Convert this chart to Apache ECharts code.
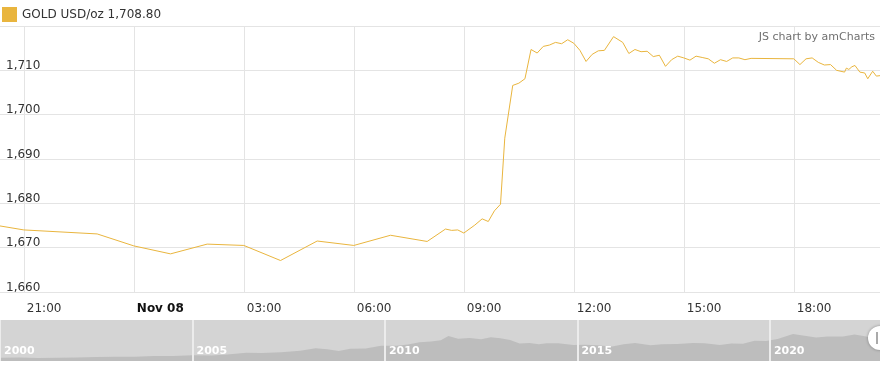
<!DOCTYPE html>
<html><head><meta charset="utf-8">
<script src="https://cdn.jsdelivr.net/npm/echarts@6/dist/echarts.min.js"></script>
<style>html,body{margin:0;padding:0;background:#fff}#c{width:880px;height:368px}</style>
</head><body><div id="c"></div>
<script>
const seriesName = 'GOLD USD/oz';
const watermark = 'JS chart by amCharts';

// intraday quotes
const times = [
  '2022-11-07 20:21','2022-11-07 21:00','2022-11-07 23:00',
  '2022-11-08 00:00','2022-11-08 01:00','2022-11-08 02:00','2022-11-08 03:00',
  '2022-11-08 04:00','2022-11-08 05:00','2022-11-08 06:00','2022-11-08 07:00',
  '2022-11-08 08:00','2022-11-08 08:30','2022-11-08 08:40','2022-11-08 08:50',
  '2022-11-08 09:00','2022-11-08 09:18','2022-11-08 09:30','2022-11-08 09:40',
  '2022-11-08 09:50','2022-11-08 10:00','2022-11-08 10:07','2022-11-08 10:20',
  '2022-11-08 10:30','2022-11-08 10:40','2022-11-08 10:50','2022-11-08 11:00',
  '2022-11-08 11:10','2022-11-08 11:20','2022-11-08 11:30','2022-11-08 11:40',
  '2022-11-08 11:50','2022-11-08 12:00','2022-11-08 12:10','2022-11-08 12:20',
  '2022-11-08 12:30','2022-11-08 12:40','2022-11-08 12:50','2022-11-08 13:05',
  '2022-11-08 13:20','2022-11-08 13:30','2022-11-08 13:40','2022-11-08 13:50',
  '2022-11-08 14:00','2022-11-08 14:10','2022-11-08 14:20','2022-11-08 14:30',
  '2022-11-08 14:40','2022-11-08 14:50','2022-11-08 15:00','2022-11-08 15:10',
  '2022-11-08 15:20','2022-11-08 15:30','2022-11-08 15:40','2022-11-08 15:50',
  '2022-11-08 16:00','2022-11-08 16:10','2022-11-08 16:20','2022-11-08 16:30',
  '2022-11-08 16:40','2022-11-08 16:50','2022-11-08 18:00','2022-11-08 18:10',
  '2022-11-08 18:20','2022-11-08 18:30','2022-11-08 18:40','2022-11-08 18:50',
  '2022-11-08 19:00','2022-11-08 19:10','2022-11-08 19:23','2022-11-08 19:26',
  '2022-11-08 19:30','2022-11-08 19:35','2022-11-08 19:40','2022-11-08 19:48',
  '2022-11-08 19:56','2022-11-08 20:01','2022-11-08 20:09','2022-11-08 20:15',
  '2022-11-08 20:21'
];
const prices = [
  1674.9,1674.0,1673.1,
  1670.4,1668.6,1670.8,1670.5,
  1667.1,1671.5,1670.5,1672.8,
  1671.4,1674.2,1673.9,1674.0,
  1673.3,1675.1,1676.5,1675.9,
  1678.3,1679.8,1694.7,1706.6,
  1707.1,1708.1,1714.7,1713.9,
  1715.4,1715.7,1716.3,1716.0,
  1716.9,1716.1,1714.5,1712.0,
  1713.6,1714.4,1714.5,1717.6,
  1716.3,1713.8,1714.7,1714.2,
  1714.3,1713.1,1713.4,1710.9,
  1712.4,1713.2,1712.8,1712.3,
  1713.2,1712.9,1712.6,1711.6,
  1712.4,1712.0,1712.8,1712.8,
  1712.4,1712.7,1712.6,1711.3,
  1712.6,1712.8,1711.8,1711.2,
  1711.3,1710.0,1709.6,1710.5,
  1710.2,1710.8,1711.1,1709.6,
  1709.4,1708.1,1709.8,1708.7,
  1708.8
];
const yMin = 1660, yMax = 1720, yStep = 10;
const xTickTimes = ['2022-11-07 21:00','2022-11-08 00:00','2022-11-08 03:00','2022-11-08 06:00',
  '2022-11-08 09:00','2022-11-08 12:00','2022-11-08 15:00','2022-11-08 18:00'];
const dayLabel = 'Nov 08';

// long-term navigator (year, price)
const navYears = [2000.0,2000.5,2001.0,2001.5,2002.0,2002.5,2003.0,2003.5,2004.0,2004.5,
  2005.0,2005.5,2005.9,2006.4,2006.8,2007.3,2007.8,2008.2,2008.5,2008.8,
  2009.1,2009.5,2009.9,2010.3,2010.6,2010.9,2011.2,2011.45,2011.65,2011.9,
  2012.2,2012.5,2012.75,2013.0,2013.25,2013.5,2013.75,2014.0,2014.2,2014.5,
  2014.9,2015.2,2015.5,2015.9,2016.2,2016.5,2016.9,2017.2,2017.6,2018.0,
  2018.3,2018.7,2019.0,2019.3,2019.6,2019.9,2020.2,2020.6,2020.9,2021.2,
  2021.5,2021.9,2022.2,2022.5,2022.7,2022.86];
const navPrices = [280,290,265,275,290,320,350,355,410,400,
  450,440,510,640,610,680,780,960,890,760,
  930,940,1150,1140,1240,1400,1440,1540,1850,1640,
  1700,1610,1760,1680,1560,1300,1340,1250,1330,1320,
  1190,1210,1170,1080,1250,1340,1170,1250,1270,1340,
  1320,1200,1300,1290,1500,1480,1620,1990,1860,1730,
  1800,1800,1950,1810,1660,1710];
const navYearTicks = [2000, 2005, 2010, 2015, 2020];

function toUTC(s){const [d,t]=s.split(' ');const [Y,M,D]=d.split('-').map(Number);const [h,m]=t.split(':').map(Number);return Date.UTC(Y,M-1,D,h,m);}
function fmtNum(v,dec){const p=v.toFixed(dec).split('.');p[0]=p[0].replace(/\B(?=(\d{3})+(?!\d))/g,',');return p.join('.');}
function pad(n){return (n<10?'0':'')+n;}

const mainData = times.map((t,i)=>[toUTC(t),prices[i]]);
const navData = navYears.map((y,i)=>[y,navPrices[i]]);
const FONT = '"DejaVu Sans", Verdana, sans-serif';
const lineColor = '#E9B53E';

const chart = echarts.init(document.getElementById('c'), null, {renderer:'canvas'});
chart.setOption({
  animation:false,
  textStyle:{fontFamily:FONT},
  title:{text:watermark,right:5,top:32,padding:0,textStyle:{fontSize:11,fontWeight:'normal',color:'#707070',fontFamily:FONT}},
  legend:{data:[seriesName],left:2,top:7,padding:0,itemWidth:15,itemHeight:15,icon:'rect',
    textStyle:{fontSize:12,color:'#333',fontFamily:FONT},
    formatter:(n)=>n+' '+fmtNum(prices[prices.length-1],2)},
  grid:[
    {left:0,right:0,top:26,height:266,containLabel:false},
    {left:0,right:0,top:320,height:41,show:true,backgroundColor:'#d4d4d4',borderWidth:0}
  ],
  xAxis:[
    {type:'value',gridIndex:0,min:mainData[0][0],max:mainData[mainData.length-1][0],
      axisLine:{show:false},
      axisTick:{show:false,customValues:xTickTimes.map(toUTC)},
      splitLine:{show:true,lineStyle:{color:'#e4e4e4',width:1}},
      axisLabel:{customValues:xTickTimes.map(toUTC),align:'left',padding:[0,0,0,3],margin:11,
        fontSize:12,color:'#333',fontFamily:FONT,
        formatter:(v)=>{const d=new Date(v);const h=d.getUTCHours();return h===0?'{b|'+dayLabel+'}':pad(h)+':'+pad(d.getUTCMinutes());},
        rich:{b:{fontWeight:'bold',fontSize:12,color:'#111',fontFamily:FONT}}}},
    {type:'value',gridIndex:1,min:navYears[0],max:navYears[navYears.length-1],z:10,
      axisLine:{show:false},axisTick:{show:false,customValues:navYearTicks},
      splitLine:{show:true,lineStyle:{color:'#ececec',width:2}},
      axisLabel:{customValues:navYearTicks,inside:true,margin:4,align:'left',padding:[0,0,0,4],hideOverlap:false,
        fontSize:11,fontWeight:'bold',color:'#ffffff',fontFamily:FONT,formatter:(v)=>String(Math.round(v))}}
  ],
  yAxis:[
    {type:'value',gridIndex:0,min:yMin,max:yMax,interval:yStep,
      axisLine:{show:false},axisTick:{show:false},
      splitLine:{show:true,lineStyle:{color:'#e4e4e4',width:1}},
      axisLabel:{inside:true,margin:6,align:'left',verticalAlign:'bottom',lineHeight:9,showMaxLabel:false,
        fontSize:12,color:'#333',fontFamily:FONT,formatter:(v)=>fmtNum(v,0)}},
    {type:'value',gridIndex:1,min:40,max:3000,show:false,splitLine:{show:false}}
  ],
  series:[
    {name:seriesName,type:'line',xAxisIndex:0,yAxisIndex:0,data:mainData,showSymbol:false,
      lineStyle:{color:lineColor,width:1},itemStyle:{color:lineColor},clip:true,z:5},
    {name:'nav',type:'line',xAxisIndex:1,yAxisIndex:1,data:navData,showSymbol:false,
      lineStyle:{width:0},itemStyle:{color:'#bdbdbd'},areaStyle:{color:'#bdbdbd',opacity:1},z:1}
  ],
  graphic:[
    {type:'circle',shape:{cx:880,cy:338,r:12},style:{fill:'#fff',shadowBlur:3,shadowColor:'rgba(0,0,0,0.35)'},z:100},
    {type:'rect',shape:{x:876,y:332,width:2,height:12},style:{fill:'#aaa'},z:101}
  ]
});
</script></body></html>
